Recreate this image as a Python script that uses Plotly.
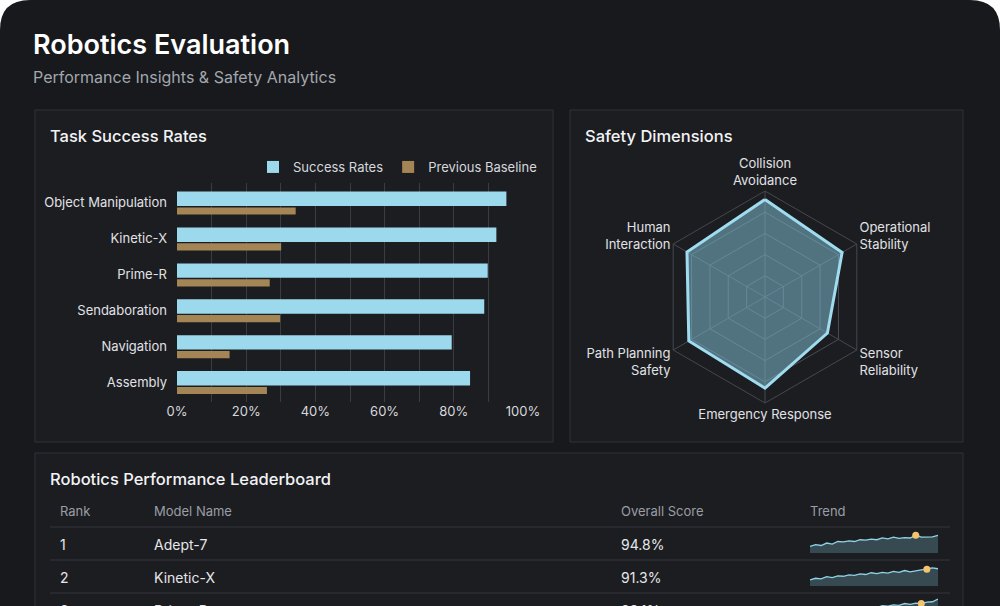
import plotly.graph_objects as go

categories = ["Object Manipulation", "Kinetic-X", "Prime-R", "Sendaboration", "Navigation", "Assembly"]
success_rates = [95.2, 92.3, 89.8, 88.8, 79.4, 84.7]
previous_baseline = [34.3, 30.1, 26.8, 29.8, 15.2, 26.0]

safety_dims = ["Collision<br>Avoidance", "Operational<br>Stability", "Sensor<br>Reliability",
               "Emergency Response", "Path Planning<br>Safety", "Human<br>Interaction"]
safety_vals = [92, 84, 68, 86, 83, 85]

ranks = ["1", "2", "3"]
models = ["Adept-7", "Kinetic-X", "Prime-R"]
scores = ["94.8%", "91.3%", "89.1%"]
trend1 = [30, 38, 34, 45, 40, 52, 50, 55, 52, 60, 58, 63, 60, 68, 64, 72, 66, 70, 68, 80, 72, 74, 73, 80]
trend2 = [28, 35, 32, 42, 38, 46, 44, 50, 48, 55, 52, 60, 56, 62, 58, 66, 62, 70, 64, 68, 72, 76, 82, 78]
trend3 = [20, 28, 26, 34, 30, 40, 38, 46, 42, 50, 48, 56, 52, 60, 58, 64, 62, 70, 66, 72, 70, 76, 78, 90]
trend_marker = [19, 21, 20]

W, H = 1000, 606
def px(x): return x / W
def py(y): return 1 - y / H

font = "Inter"
fig = go.Figure()

n = len(categories)
fig.add_trace(go.Bar(y=[i - 0.11 for i in range(n)], x=success_rates, orientation="h", width=0.4,
                     name="Success Rates", marker=dict(color="#9dd9ec", line=dict(width=0)),
                     xaxis="x", yaxis="y"))
fig.add_trace(go.Bar(y=[i + 0.23 for i in range(n)], x=previous_baseline, orientation="h", width=0.2,
                     name="Previous Baseline", marker=dict(color="#a38556", line=dict(width=0)),
                     xaxis="x", yaxis="y"))

fig.add_trace(go.Scatterpolar(r=safety_vals + safety_vals[:1], theta=safety_dims + safety_dims[:1],
                              mode="lines", fill="toself", fillcolor="rgba(125,185,205,0.55)",
                              line=dict(color="#9fdcef", width=3), showlegend=False, subplot="polar"))

trends = [trend1, trend2, trend3]
row_y = [544, 577, 610]
for k, t in enumerate(trends):
    ax = str(k + 2)
    fig.add_trace(go.Scatter(x=list(range(len(t))), y=t, mode="lines", fill="tozeroy",
                             fillcolor="rgba(90,130,140,0.45)", line=dict(color="#8fd3e6", width=1.3),
                             showlegend=False, xaxis="x" + ax, yaxis="y" + ax, cliponaxis=False))
    m = trend_marker[k]
    fig.add_trace(go.Scatter(x=[m], y=[t[m]], mode="markers", marker=dict(color="#f2c46d", size=7),
                             showlegend=False, xaxis="x" + ax, yaxis="y" + ax, cliponaxis=False))
    cy = row_y[k]
    top, bot = cy - 12, cy + 9
    lo = 0
    if bot > H:
        lo = 95 * (bot - H) / (bot - top)
        bot = H
    fig.layout["xaxis" + ax] = dict(domain=[px(810), px(938)], visible=False, range=[0, len(t) - 1],
                                    anchor="y" + ax, automargin=False)
    fig.layout["yaxis" + ax] = dict(domain=[py(bot), py(top)], visible=False, range=[lo, 95],
                                    anchor="x" + ax, automargin=False)

shapes = []
r = 30
shapes.append(dict(type="path", xref="paper", yref="paper", layer="below",
                   path=f"M {px(r)},{py(0)} L {px(W - r)},{py(0)} Q {px(W)},{py(0)} {px(W)},{py(r)} "
                        f"L {px(W)},{py(H)} L {px(0)},{py(H)} L {px(0)},{py(r)} Q {px(0)},{py(0)} {px(r)},{py(0)} Z",
                   fillcolor="#17191d", line=dict(width=0)))
for (x0, y0, x1, y1) in [(35, 110, 553, 442), (570, 110, 963, 442), (35, 453, 963, 640)]:
    shapes.append(dict(type="rect", xref="paper", yref="paper", layer="below",
                       x0=px(x0), x1=px(x1), y0=py(y1), y1=py(y0),
                       fillcolor="#1c1d21", line=dict(color="#303238", width=1)))
for ly in [527, 560, 593]:
    shapes.append(dict(type="line", xref="paper", yref="paper", x0=px(50), x1=px(950), y0=py(ly), y1=py(ly),
                       line=dict(color="#33363c", width=1)))

ann = []
def text(x, y, s, size, color, weight=400):
    ann.append(dict(x=px(x), y=py(y), xref="paper", yref="paper", text=s,
                    showarrow=False, xanchor="left", yanchor="middle",
                    font=dict(family=font, size=size, color=color, weight=weight)))
text(31, 45, "Robotics Evaluation", 27, "#ffffff", 600)
text(31, 77, "Performance Insights & Safety Analytics", 16, "#a3a7ad")
text(48, 136, "Task Success Rates", 16.5, "#f2f3f5", 500)
text(583, 136, "Safety Dimensions", 16.5, "#f2f3f5", 500)
text(48, 479, "Robotics Performance Leaderboard", 16.5, "#f2f3f5", 500)
for x, s in [(58, "Rank"), (152, "Model Name"), (619, "Overall Score"), (808, "Trend")]:
    text(x, 511, s, 13, "#9a9ea5")
for k in range(3):
    y = row_y[k]
    text(58, y, ranks[k], 14, "#e6e7ea")
    text(152, y, models[k], 14, "#e6e7ea")
    text(619, y, scores[k], 14, "#e6e7ea")

fig.update_layout(
    width=W, height=H, margin=dict(l=0, r=0, t=0, b=0, autoexpand=False),
    paper_bgcolor="#ffffff", plot_bgcolor="rgba(0,0,0,0)",
    font=dict(family=font, color="#e0e2e6"),
    barmode="overlay", shapes=shapes, annotations=ann,
    legend=dict(orientation="h", x=px(542), xanchor="right", y=py(167), yanchor="middle",
                font=dict(size=13, color="#d6d8dc"), bgcolor="rgba(0,0,0,0)", itemwidth=30),
    xaxis=dict(domain=[px(177), px(523)], range=[0, 100], dtick=20, ticksuffix="%",
               showgrid=True, gridcolor="#3a3c42", gridwidth=1, zeroline=False, automargin=False,
               minor=dict(dtick=10, showgrid=True, gridcolor="#3a3c42"),
               tickfont=dict(size=13, color="#d6d8dc"), anchor="y", fixedrange=True),
    yaxis=dict(domain=[py(402), py(183)], range=[5.55, -0.55], tickvals=list(range(n)), ticktext=categories,
               showgrid=False, zeroline=False, showline=False, ticks="", ticklabelstandoff=9, automargin=False,
               tickfont=dict(size=13, color="#e0e2e6"), anchor="x"),
    polar=dict(domain=dict(x=[px(659), px(871)], y=[py(403), py(191)]), bgcolor="rgba(0,0,0,0)",
               gridshape="linear",
               radialaxis=dict(range=[0, 100], dtick=20, showticklabels=False, ticks="",
                               gridcolor="#4a4d54", linecolor="rgba(0,0,0,0)", showline=False),
               angularaxis=dict(rotation=90, direction="clockwise", gridcolor="#45484f",
                                linecolor="#45484f", ticks="", tickfont=dict(size=13, color="#e0e2e6"))),
)
fig.write_html("out.html", config={"displayModeBar": False},
               post_script="document.body.style.margin='0';document.body.style.overflow='hidden';")
